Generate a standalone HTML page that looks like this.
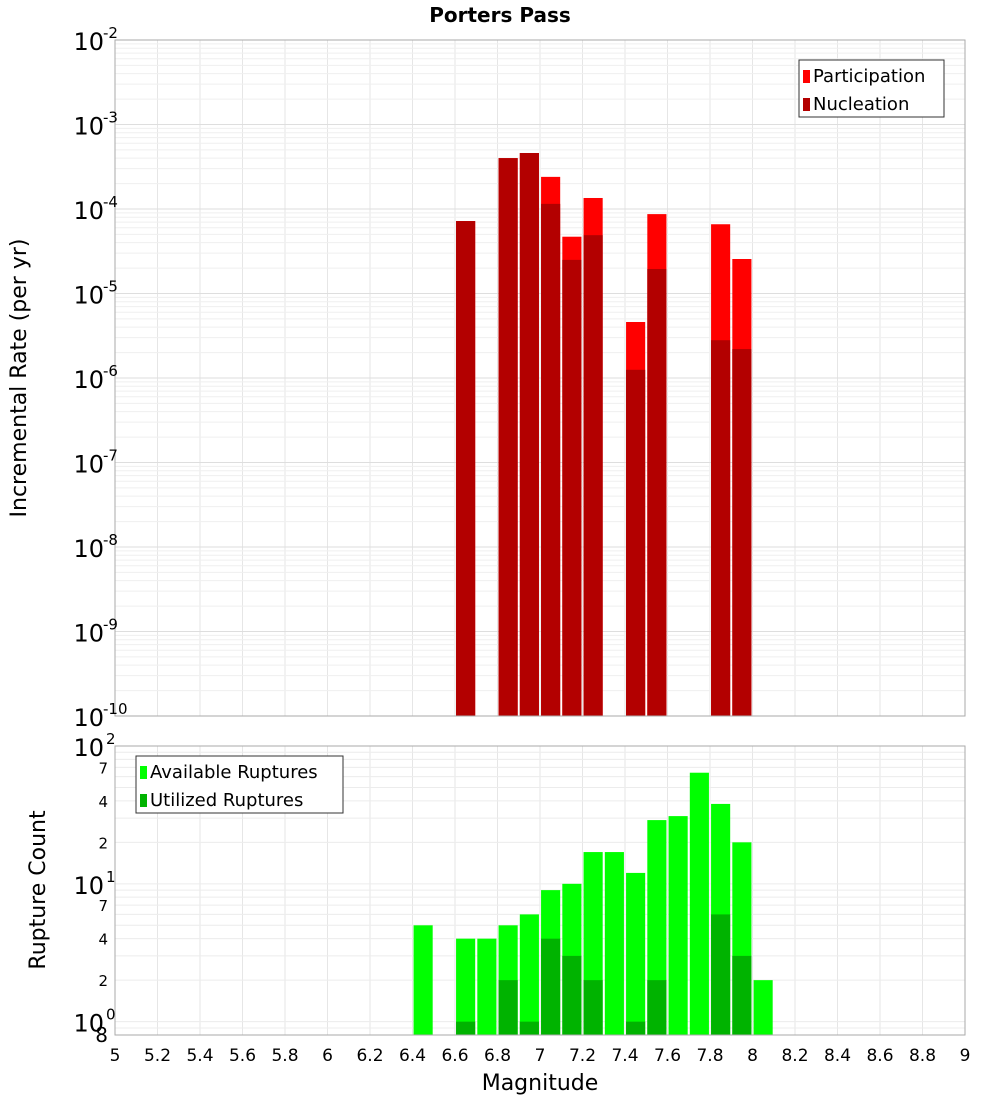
<!DOCTYPE html>
<html><head><meta charset="utf-8"><style>
body{margin:0;background:#fff;font-family:"DejaVu Sans","Liberation Sans",sans-serif}
</style></head><body>
<svg id="c" width="1000" height="1100" xmlns="http://www.w3.org/2000/svg" style="font-family:'DejaVu Sans','Liberation Sans',sans-serif">
<text x="500" y="22" text-anchor="middle" font-size="20" font-weight="bold">Porters Pass</text>
<text transform="translate(26,378) rotate(-90)" text-anchor="middle" font-size="22">Incremental Rate (per yr)</text>
<text transform="translate(45,890) rotate(-90)" text-anchor="middle" font-size="22">Rupture Count</text>
<text x="540" y="1090" text-anchor="middle" font-size="22">Magnitude</text>
<g id="g"></g>
</svg>
<script>
const topMags=[6.65,6.85,6.95,7.05,7.15,7.25,7.45,7.55,7.85,7.95];
const participation=[7.2e-5,4.0e-4,4.6e-4,2.4e-4,4.7e-5,1.35e-4,4.6e-6,8.7e-5,6.6e-5,2.56e-5];
const nucleation=[7.2e-5,4.0e-4,4.6e-4,1.15e-4,2.5e-5,4.9e-5,1.25e-6,1.95e-5,2.8e-6,2.2e-6];
const botMags=[6.45,6.65,6.75,6.85,6.95,7.05,7.15,7.25,7.35,7.45,7.55,7.65,7.75,7.85,7.95,8.05];
const available=[5,4,4,5,6,9,10,17,17,12,29,31,64,38,20,2];
const utilized=[0,1,0,2,1,4,3,2,0,1,2,0,0,6,3,0];
const xTicks=[5,5.2,5.4,5.6,5.8,6,6.2,6.4,6.6,6.8,7,7.2,7.4,7.6,7.8,8,8.2,8.4,8.6,8.8,9];
const topDecades=[-10,-9,-8,-7,-6,-5,-4,-3,-2];
const botMinorLabels=[2,4,7];

const NS="http://www.w3.org/2000/svg",g=document.getElementById('g');
function el(t,a,txt){const e=document.createElementNS(NS,t);for(const k in a)e.setAttribute(k,a[k]);if(txt!==undefined)e.textContent=txt;g.appendChild(e);return e;}
const L=115,R=965;
const X=m=>L+(m-5)/4*(R-L);
const T0=40,T1=716,yT=v=>T0+(-2-Math.log10(v))/8*(T1-T0);
const B0=746,B1=1035,lminB=Math.log10(0.8),yB=v=>B0+(2-Math.log10(v))/(2-lminB)*(B1-B0);
const bw=0.09*(R-L)/4;
// grids
function vgrid(y0,y1){xTicks.forEach(t=>{const e=el('line',{x1:X(t),x2:X(t),y1:y0,y2:y1,stroke:'#e6e6e6'});});}
vgrid(T0,T1);vgrid(B0,B1);
topDecades.forEach(d=>{for(let k=1;k<10;k++){const v=k*Math.pow(10,d);if(v>1e-2+1e-12)continue;const y=yT(v);const e=el('line',{x1:L,x2:R,y1:y,y2:y,stroke:k==1?'#dedede':'#efefef'});}});
[0.8,0.9,1,2,3,4,5,6,7,8,9,10,20,30,40,50,60,70,80,90,100].forEach(v=>{const y=yB(v);const e=el('line',{x1:L,x2:R,y1:y,y2:y,stroke:'#ececec'});});
// top bars
topMags.forEach((m,i)=>{
 let e=el('rect',{x:X(m)-bw/2,y:yT(participation[i]),width:bw,height:T1-yT(participation[i]),fill:'#ff0000'});
 
 e=el('rect',{x:X(m)-bw/2,y:yT(nucleation[i]),width:bw,height:T1-yT(nucleation[i]),fill:'#b30000'});
 
});
botMags.forEach((m,i)=>{
 let e=el('rect',{x:X(m)-bw/2,y:yB(available[i]),width:bw,height:B1-yB(available[i]),fill:'#00ff00'});
 
 if(utilized[i]>0){e=el('rect',{x:X(m)-bw/2,y:yB(utilized[i]),width:bw,height:B1-yB(utilized[i]),fill:'#00b300'});
 }
});
// frames
let f=el('rect',{x:L,y:T0,width:R-L,height:T1-T0,fill:'none',stroke:'#aaa'});
f=el('rect',{x:L,y:B0,width:R-L,height:B1-B0,fill:'none',stroke:'#aaa'});
// top y labels
topDecades.forEach(d=>{const y=yT(Math.pow(10,d));
 let e=el('text',{x:104,y:y+10,'text-anchor':'end','font-size':24},'10');
 e=el('text',{x:103,y:y-2,'font-size':15},String(d));});
// bottom y labels
[[100,'2'],[10,'1'],[1,'0']].forEach(([v,p])=>{const y=yB(v);
 let e=el('text',{x:104,y:y+10,'text-anchor':'end','font-size':24},'10');
 e=el('text',{x:106,y:y-2,'font-size':15},p);});
[1,10].forEach(d=>botMinorLabels.forEach(k=>{const y=yB(k*d);const e=el('text',{x:108,y:y+6,'text-anchor':'end','font-size':15},String(k));}));
let e8=el('text',{x:108,y:B1+7,'text-anchor':'end','font-size':20},'8');
// x labels
xTicks.forEach(t=>{const e=el('text',{x:X(t),y:1061,'text-anchor':'middle','font-size':17},String(Math.round(t*10)/10));});
// legends
function legend(x,y,w,items,name){let e=el('rect',{x:x,y:y,width:w,height:57,fill:'#fff',stroke:'#333'});
 items.forEach(([c,t],i)=>{let r=el('rect',{x:x+4,y:y+10+i*28,width:7,height:13,fill:c});
 let s=el('text',{x:x+14,y:y+22+i*28,'font-size':18},t);});}
legend(799,60,145,[['#ff0000','Participation'],['#b30000','Nucleation']],'top-legend');
legend(136,756,207,[['#00ff00','Available Ruptures'],['#00b300','Utilized Ruptures']],'bottom-legend');
</script>
</body></html>
